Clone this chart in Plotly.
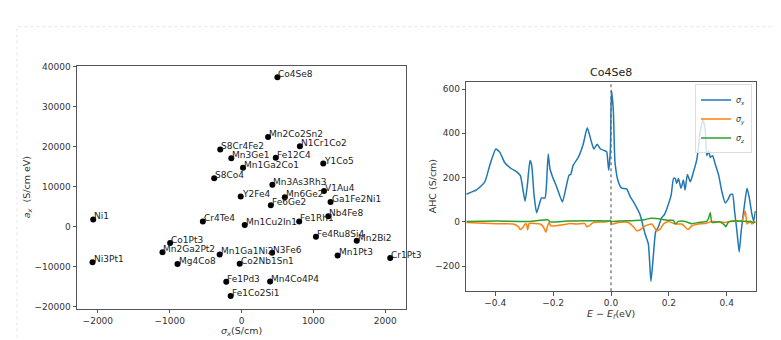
import plotly.graph_objects as go

# ---- left scatter data ----
names = ["Co4Se8", "Mn2Co2Sn2", "S8Cr4Fe2", "N1Cr1Co2", "Mn3Ge1", "Fe12C4", "Mn1Ga2Co1",
         "Y1Co5", "S8Co4", "Mn3As3Rh3", "V1Au4", "Y2Fe4", "Mn6Ge2", "Fe6Ge2", "Ga1Fe2Ni1",
         "Nb4Fe8", "Ni1", "Cr4Te4", "Fe1Rh1", "Mn1Cu2In1", "Fe4Ru8Si4", "Co1Pt3", "Mn2Bi2",
         "Mn2Ga2Pt2", "Mn1Ga1Ni2", "N3Fe6", "Mn1Pt3", "Cr1Pt3", "Ni3Pt1", "Mg4Co8",
         "Co2Nb1Sn1", "Fe1Pd3", "Mn4Co4P4", "Fe1Co2Si1"]
sigma_x = [500, 370, -296, 813, -142, 477, 21,
           1138, -380, 430, 1148, -11, 603, 408, 1240,
           1208, -2064, -538, 803, 45, 1036, -994, 1604,
           -1100, -304, 426, 1338, 2070, -2074, -891,
           -25, -212, 398, -151]
a_x = [37400, 22450, 19360, 20170, 17150, 17300, 14780,
       15830, 12160, 10540, 8970, 7600, 7430, 5390, 6200,
       2700, 1860, 1370, 1370, 490, -2450, -4020, -3430,
       -6300, -6860, -6470, -7110, -7770, -8820, -9240,
       -9170, -13730, -13650, -17250]
left_xticks = [-2000, -1000, 0, 1000, 2000]
left_xtext = ["−2000", "−1000", "0", "1000", "2000"]
left_yticks = [-20000, -10000, 0, 10000, 20000, 30000, 40000]
left_ytext = ["−20000", "−10000", "0", "10000", "20000", "30000", "40000"]

# ---- right AHC curves ----
E_x = [-0.5, -0.465, -0.436, -0.419, -0.398, -0.384, -0.367, -0.344, -0.326, -0.313, -0.305,
       -0.297, -0.289, -0.280, -0.274, -0.266, -0.257, -0.248, -0.240, -0.228, -0.223, -0.217,
       -0.211, -0.202, -0.188, -0.168, -0.156, -0.145, -0.139, -0.131, -0.113, -0.096, -0.082,
       -0.067, -0.059, -0.048, -0.036, -0.021, -0.015, -0.008, -0.002, 0.0014,
       0.008, 0.0138, 0.0253, 0.0369, 0.054, 0.066, 0.083, 0.100, 0.118, 0.129, 0.138, 0.146,
       0.154, 0.164, 0.175, 0.185, 0.196, 0.208, 0.216, 0.222, 0.227, 0.233, 0.242, 0.250,
       0.256, 0.264, 0.274, 0.285, 0.297, 0.308, 0.317, 0.325, 0.331, 0.337, 0.343, 0.351,
       0.360, 0.372, 0.383, 0.395, 0.404, 0.412, 0.420, 0.427, 0.435, 0.443, 0.450, 0.462,
       0.470, 0.478, 0.487, 0.493, 0.499]
sig_x = [125, 144, 181, 255, 329, 314, 267, 240, 226, 208, 152,
         93, 166, 277, 255, 122, 41, 78, 108, 108, 166, 307,
         240, 204, 159, 90, 152, 211, 214, 255, 292, 351, 425,
         358, 329, 351, 329, 321, 317, 233, 329, 594,
         506, 270, 181, 152, 149, 115, 78, 34, -55, -99, -269, -158,
         -47, -22, 19, 34, 71, 122, 196, 196, 174, 196, 152, 189,
         144, 214, 181, 226, 285, 403, 459, 425, 299, 321, 292, 299,
         262, 211, 137, 85, 100, 122, 125, 49, -40, -136, -40, 85,
         152, 108, 34, 4, 49]

E_y = [-0.5, -0.396, -0.338, -0.320, -0.313, -0.303, -0.297, -0.292, -0.288, -0.283, -0.245,
       -0.234, -0.225, -0.220, -0.214, -0.208, -0.165, -0.146, -0.119, -0.090, -0.084, -0.076,
       -0.061, -0.015, -0.003, 0.002, 0.025, 0.060, 0.077, 0.089, 0.100, 0.118, 0.141, 0.158,
       0.170, 0.181, 0.198, 0.222, 0.245, 0.266, 0.279, 0.302, 0.325, 0.349, 0.372, 0.395,
       0.418, 0.452, 0.464, 0.470, 0.481, 0.487, 0.499]
sig_y = [-3, -8, -10, -22, -35, -22, -10, -10, -37, -8, -10,
         -22, -47, -22, -3, -18, -13, -8, -10, -8, -22, -18,
         -3, 0, 7, -10, -3, -3, -22, -40, -37, -18, -10, -40,
         -33, -10, 2, -10, -10, -35, -18, -10, -8, 2, 0, -3,
         4, 4, 49, -10, 4, -10, 4]

E_z = [-0.5, -0.396, -0.283, -0.217, -0.211, -0.146, -0.003, 0.002, 0.037, 0.100, 0.141,
       0.175, 0.198, 0.216, 0.222, 0.233, 0.256, 0.279, 0.302, 0.331, 0.337, 0.343, 0.349,
       0.372, 0.389, 0.397, 0.406, 0.429, 0.476, 0.499]
sig_z = [2, 4, 2, 9, 0, 4, 4, 2, 4, 7, 16,
         12, 7, 7, -10, 2, 2, -8, -3, 2, 16, 41, -3,
         0, -10, -22, 0, 4, 2, -3]
right_xticks = [-0.4, -0.2, 0.0, 0.2, 0.4]
right_xtext = ["−0.4", "−0.2", "0.0", "0.2", "0.4"]
right_yticks = [-200, 0, 200, 400, 600]
right_ytext = ["−200", "0", "200", "400", "600"]

FONT = "DejaVu Sans"
TXT = "#333333"
AX = "#555555"

fig = go.Figure()
fig.add_trace(go.Scatter(
    x=sigma_x, y=a_x, mode="markers",
    marker=dict(color="black", size=6), showlegend=False, xaxis="x", yaxis="y",
    cliponaxis=False))

for E, s, col, nm in [(E_x, sig_x, "#1f77b4", "<i>σ<sub>x</sub></i>"),
                      (E_y, sig_y, "#ff7f0e", "<i>σ<sub>y</sub></i>"),
                      (E_z, sig_z, "#2ca02c", "<i>σ<sub>z</sub></i>")]:
    fig.add_trace(go.Scatter(x=E, y=s, mode="lines", name=nm,
                             line=dict(color=col, width=1.5, shape="spline", smoothing=0.5),
                             xaxis="x2", yaxis="y2"))

axis_common = dict(showgrid=False, zeroline=False, showline=True, linecolor=AX, linewidth=1,
                   mirror=True, ticks="outside", ticklen=3.5, tickcolor=AX,
                   tickfont=dict(family=FONT, size=9, color=TXT))

fig.update_layout(
    width=781, height=340, margin=dict(l=0, r=0, t=0, b=0),
    paper_bgcolor="white", plot_bgcolor="white",
    font=dict(family=FONT, color=TXT),
    xaxis=dict(domain=[69/781, 398/781], range=[-2290, 2290],
               tickvals=left_xticks, ticktext=left_xtext, **axis_common),
    yaxis=dict(domain=[1-303/340, 1-55/340], range=[-20450, 40250],
               tickvals=left_yticks, ticktext=left_ytext, **axis_common),
    xaxis2=dict(domain=[458.3/781, 747.7/781], range=[-0.5, 0.5], anchor="y2",
                tickvals=right_xticks, ticktext=right_xtext, **axis_common),
    yaxis2=dict(domain=[1-285/340, 1-71/340], range=[-313, 634], anchor="x2",
                tickvals=right_yticks, ticktext=right_ytext, **axis_common),
    legend=dict(x=744/781, y=1-74/340, xanchor="right", yanchor="top",
                bgcolor="rgba(255,255,255,0.8)", bordercolor="#dddddd", borderwidth=1,
                font=dict(family=FONT, size=8, color=TXT), itemwidth=30, tracegroupgap=0),
    showlegend=True,
)

# point labels (text anchored at the point, like matplotlib annotate)
for nm, xv, yv in zip(names, sigma_x, a_x):
    fig.add_annotation(text=nm, x=xv, y=yv, xref="x", yref="y", showarrow=False,
                       xanchor="left", yanchor="bottom", xshift=-1, yshift=-4,
                       font=dict(family=FONT, size=9, color="#222222"))

# vertical dashed line at Fermi level
fig.add_shape(type="line", xref="x2", yref="y2 domain", x0=0, x1=0, y0=0, y1=1,
              line=dict(color="#666666", width=1.2, dash="dot"))
# outer card border
fig.add_shape(type="rect", xref="paper", yref="paper", x0=9/781, x1=772/781,
              y0=1-336/340, y1=1-15/340, line=dict(color="#e6e6e6", width=1, dash="dot"),
              layer="below")

ann = dict(showarrow=False, font=dict(family=FONT, size=9.5, color=TXT))
fig.add_annotation(text="Co4Se8", xref="paper", yref="paper", x=603/781, y=1-62/340,
                   xanchor="center", yanchor="middle", showarrow=False,
                   font=dict(family=FONT, size=11, color="#222"))
fig.add_annotation(text="<i>σ<sub>x</sub></i>(S/cm)", xref="paper", yref="paper",
                   x=233/781, y=1-326/340, xanchor="center", yanchor="middle", **ann)
fig.add_annotation(text="<i>a<sub>x</sub></i>  (S/cm eV)", xref="paper", yref="paper",
                   x=19/781, y=1-179/340, xanchor="center", yanchor="middle", textangle=-90, **ann)
fig.add_annotation(text="AHC (S/cm)", xref="paper", yref="paper",
                   x=424/781, y=1-178/340, xanchor="center", yanchor="middle", textangle=-90, **ann)
fig.add_annotation(text="<i>E</i> − <i>E<sub>f</sub></i>(eV)", xref="paper", yref="paper",
                   x=603/781, y=1-309/340, xanchor="center", yanchor="middle", **ann)

fig.write_html("out.html")
